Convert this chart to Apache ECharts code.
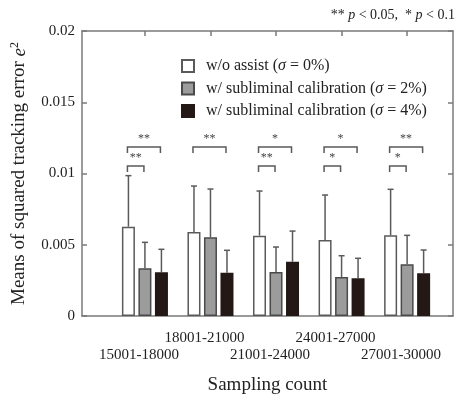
<!DOCTYPE html>
<html>
<head>
<meta charset="utf-8">
<script src="https://cdn.jsdelivr.net/npm/echarts@6/dist/echarts.min.js"></script>
<style>
  html, body { margin: 0; padding: 0; background: #fff; }
  #chart { width: 456px; height: 394px; }
</style>
</head>
<body>
<div id="chart"></div>
<script>
const categories = ["15001-18000", "18001-21000", "21001-24000", "24001-27000", "27001-30000"];
const seriesNames = [
  "w/o assist (σ = 0%)",
  "w/ subliminal calibration (σ = 2%)",
  "w/ subliminal calibration (σ = 4%)",
];
const means0 = [0.00627, 0.0059, 0.00564, 0.00533, 0.00566];
const means2 = [0.00335, 0.00552, 0.00309, 0.00274, 0.00363];
const means4 = [0.00307, 0.00304, 0.00381, 0.00265, 0.003];
const upper0 = [0.00985, 0.00912, 0.00877, 0.00849, 0.00889];
const upper2 = [0.00517, 0.00891, 0.00484, 0.00423, 0.00566];
const upper4 = [0.00468, 0.00461, 0.00596, 0.00405, 0.00463];
// significance: [group, level, from bar, to bar, mark]
const brackets = [
  [1, 0.01186, 0, 2, "**"], [1, 0.01053, 0, 1, "**"],
  [2, 0.01186, 0, 2, "**"],
  [3, 0.01186, 0, 2, "*"], [3, 0.01053, 0, 1, "**"],
  [4, 0.01186, 0, 2, "*"], [4, 0.01053, 0, 1, "*"],
  [5, 0.01186, 0, 2, "**"], [5, 0.01053, 0, 1, "*"],
];
const yTicks = [0, 0.005, 0.01, 0.015, 0.02];
const groupPos = categories.map((c, i) => i + 1);
const xMin = 0.04;
const xMax = 5.7;

const serif = "Liberation Serif";
const axisGray = "#7a7a7a";
const barStep = 16.5;
const means = [means0, means2, means4];
const uppers = [upper0, upper2, upper4];
const fills = ["#ffffff", "#9c9c9c", "#231815"];
const borders = ["#5a5a5a", "#4a4a4a", "#231815"];

const chart = echarts.init(document.getElementById("chart"));

const barSeries = means.map((vals, k) => ({
  name: seriesNames[k],
  type: "bar",
  xAxisIndex: 0,
  barWidth: 13,
  barGap: "27%",
  itemStyle: { color: fills[k], borderColor: borders[k], borderWidth: 1.5 },
  data: vals.map((v, i) => [groupPos[i], v]),
  z: 2,
}));

const errData = [];
uppers.forEach((vals, k) => {
  vals.forEach((u, i) => errData.push([groupPos[i], means[k][i], u, k]));
});

const frameLine = { show: true, onZero: false, lineStyle: { color: axisGray, width: 1.5 } };
const frameTick = { show: true, inside: true, length: 5, lineStyle: { color: axisGray, width: 1.5 } };

option = {
  animation: false,
  backgroundColor: "#fff",
  textStyle: { fontFamily: serif },
  grid: { left: 82, right: 3, top: 31, bottom: 78, outerBoundsMode: "none", containLabel: false },
  legend: {
    orient: "vertical",
    left: 181,
    top: 58,
    padding: 0,
    itemWidth: 12,
    itemHeight: 12,
    itemGap: 6.5,
    icon: "rect",
    selectedMode: false,
    data: seriesNames,
    formatter: (name) => name.replace("σ", "{i|σ}"),
    textStyle: {
      fontFamily: serif,
      fontSize: 16,
      lineHeight: 16,
      color: "#222",
      padding: [0, 0, 0, 7],
      rich: { i: { fontFamily: serif, fontSize: 16, lineHeight: 16, fontStyle: "italic", color: "#222" } },
    },
  },
  graphic: [{
    type: "text",
    right: 1,
    top: 8,
    style: {
      text: "** {i|p} < 0.05,  * {i|p} < 0.1",
      fontFamily: serif,
      fontSize: 14,
      fill: "#222",
      rich: { i: { fontFamily: serif, fontSize: 14, fontStyle: "italic" } },
    },
  }],
  xAxis: [
    {
      type: "value",
      position: "bottom",
      min: xMin,
      max: xMax,
      name: "Sampling count",
      nameLocation: "middle",
      nameGap: 60,
      nameTextStyle: { fontFamily: serif, fontSize: 19, color: "#222" },
      axisLine: frameLine,
      axisTick: { show: false },
      splitLine: { show: false },
      axisLabel: {
        customValues: [xMin, ...groupPos, xMax],
        hideOverlap: false,
        fontFamily: serif,
        fontSize: 15,
        color: "#222",
        margin: 14,
        lineHeight: 17,
        padding: [0, 12, 0, 0],
        formatter: (v) => {
          const i = groupPos.indexOf(v);
          if (i < 0) return "";
          return i % 2 === 0 ? "\n" + categories[i] : categories[i];
        },
      },
    },
    {
      type: "value",
      position: "top",
      min: xMin,
      max: xMax,
      axisLine: frameLine,
      axisTick: { ...frameTick, customValues: groupPos },
      axisLabel: { show: false },
      splitLine: { show: false },
    },
  ],
  yAxis: [
    {
      type: "value",
      min: yTicks[0],
      max: yTicks[yTicks.length - 1],
      interval: yTicks[1] - yTicks[0],
      name: "Means of squared tracking error {e|e}{s|2}",
      nameLocation: "middle",
      nameGap: 52,
      nameRotate: 90,
      nameTextStyle: {
        fontFamily: serif,
        fontSize: 19,
        color: "#222",
        rich: {
          e: { fontFamily: serif, fontSize: 19, fontStyle: "italic", color: "#222" },
          s: { fontFamily: serif, fontSize: 12, color: "#222", padding: [0, 0, 9, 0] },
        },
      },
      axisLine: frameLine,
      axisTick: frameTick,
      axisLabel: {
        fontFamily: serif,
        fontSize: 15,
        color: "#222",
        margin: 7,
        formatter: (v) => String(+v.toFixed(3)),
      },
      splitLine: { show: false },
    },
    {
      type: "value",
      position: "right",
      min: yTicks[0],
      max: yTicks[yTicks.length - 1],
      interval: yTicks[1] - yTicks[0],
      axisLine: frameLine,
      axisTick: frameTick,
      axisLabel: { show: false },
      splitLine: { show: false },
    },
  ],
  series: [
    ...barSeries,
    {
      type: "custom",
      name: "error",
      xAxisIndex: 0,
      yAxisIndex: 0,
      z: 1,
      silent: true,
      renderItem: (params, api) => {
        const dx = (api.value(3) - 1) * barStep;
        const p0 = api.coord([api.value(0), api.value(1)]);
        const p1 = api.coord([api.value(0), api.value(2)]);
        const x = p0[0] + dx;
        const style = { stroke: "#5a5a5a", lineWidth: 1.5, fill: null };
        return {
          type: "group",
          children: [
            { type: "line", shape: { x1: x, y1: p0[1], x2: x, y2: p1[1] }, style },
            { type: "line", shape: { x1: x - 3, y1: p1[1], x2: x + 3, y2: p1[1] }, style },
          ],
        };
      },
      data: errData,
    },
    {
      type: "custom",
      name: "significance",
      xAxisIndex: 0,
      yAxisIndex: 0,
      silent: true,
      renderItem: (params, api) => {
        const c = api.coord([api.value(0), api.value(1)]);
        const x1 = c[0] + (api.value(2) - 1) * barStep - 1;
        const x2 = c[0] + (api.value(3) - 1) * barStep - 1;
        const y = c[1];
        const mark = brackets[params.dataIndex][4];
        return {
          type: "group",
          children: [
            {
              type: "polyline",
              shape: { points: [[x1, y + 6], [x1, y], [x2, y], [x2, y + 6]] },
              style: { stroke: "#5a5a5a", lineWidth: 1.5, fill: null },
            },
            {
              type: "text",
              x: (x1 + x2) / 2,
              y: y - 2,
              style: {
                text: mark,
                fontFamily: serif,
                fontSize: 12,
                fill: "#444",
                align: "center",
                verticalAlign: "bottom",
              },
            },
          ],
        };
      },
      data: brackets,
    },
  ],
};

chart.setOption(option);
</script>
</body>
</html>
